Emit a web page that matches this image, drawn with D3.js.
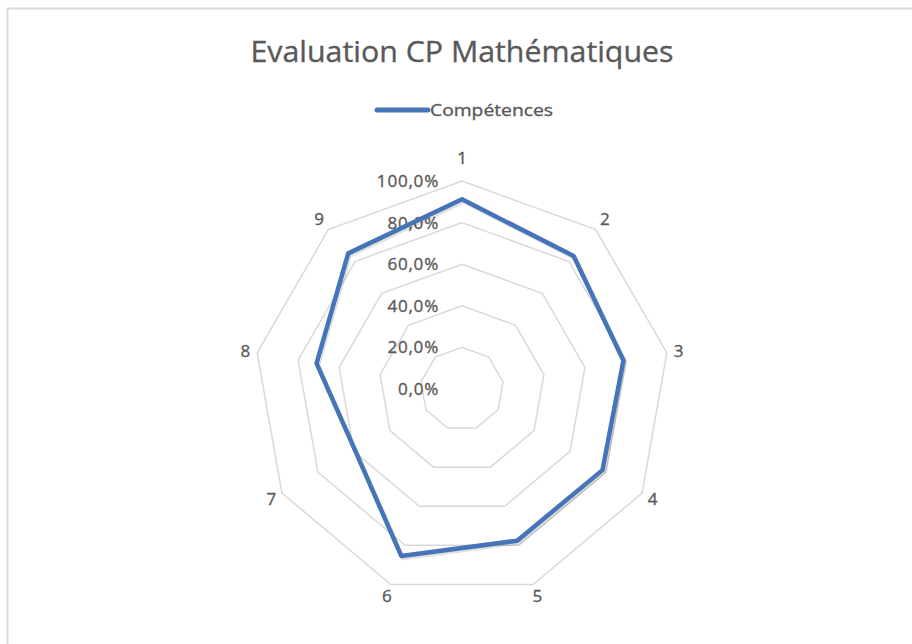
<!DOCTYPE html>
<html>
<head>
<meta charset="utf-8">
<script src="https://cdn.jsdelivr.net/npm/d3@7/dist/d3.min.js"></script>
<style>
  html, body { margin: 0; padding: 0; background: #fff; }
  svg { display: block; }
  text { font-family: "Open Sans", "Noto Sans", sans-serif; fill: #595959; stroke: #595959; stroke-width: 0.35px; }
</style>
</head>
<body>
<svg id="chart" width="912" height="644"></svg>
<script>
const title = "Evaluation CP Mathématiques";
const seriesName = "Compétences";
const categories = ["1", "2", "3", "4", "5", "6", "7", "8", "9"];
const values = [0.912, 0.835, 0.788, 0.78, 0.776, 0.854, 0.593, 0.71, 0.851];
const ticks = [0, 0.2, 0.4, 0.6, 0.8, 1.0];

const svg = d3.select("#chart");
const W = 912, H = 644;
const cx = 462, cy = 389, R = 208;
const lineColor = "#4674b8";
const gridColor = "#d9d9d9";

// chart border (top and left visible)
svg.append("line").attr("x1", 7).attr("y1", 8.5).attr("x2", W).attr("y2", 8.5)
  .attr("stroke", gridColor).attr("stroke-width", 2);
svg.append("line").attr("x1", 7.5).attr("y1", 8).attr("x2", 7.5).attr("y2", H)
  .attr("stroke", gridColor).attr("stroke-width", 2);

// title
svg.append("text").attr("x", cx).attr("y", 62)
  .attr("text-anchor", "middle")
  .attr("font-size", 30)
  .attr("textLength", 423).attr("lengthAdjust", "spacingAndGlyphs")
  .text(title);

// legend
const lg = svg.append("g");
lg.append("line").attr("x1", 377).attr("x2", 428).attr("y1", 110).attr("y2", 110)
  .attr("stroke", lineColor).attr("stroke-width", 5).attr("stroke-linecap", "round");
lg.append("text").attr("x", 430).attr("y", 110).attr("dy", "0.35em")
  .attr("font-size", 16.5)
  .attr("textLength", 123).attr("lengthAdjust", "spacingAndGlyphs")
  .text(seriesName);

const r = d3.scaleLinear().domain([0, 1]).range([0, R]);
const angle = d3.scalePoint().domain(categories).range([0, 2 * Math.PI * (categories.length - 1) / categories.length]);

const g = svg.append("g").attr("transform", `translate(${cx},${cy})`);

// grid rings (skip 0)
const ringLine = d3.lineRadial().curve(d3.curveLinearClosed);
ticks.filter(t => t > 0).forEach(t => {
  g.append("path")
    .attr("d", ringLine(categories.map(c => [angle(c), r(t)])))
    .attr("fill", "none").attr("stroke", gridColor).attr("stroke-width", 1.5);
});

// tick labels
const fr = d3.formatLocale({decimal: ",", thousands: " ", grouping: [3], currency: ["", " €"]});
const fmt = fr.format(".1%");
g.selectAll(".tick").data(ticks).join("text")
  .attr("class", "tick")
  .attr("x", -23).attr("y", d => -r(d)).attr("dy", "0.35em")
  .attr("text-anchor", "end")
  .attr("font-size", 17)
  .attr("letter-spacing", 0.8)
  .text(d => fmt(d));

// category labels
g.selectAll(".cat").data(categories).join("text")
  .attr("class", "cat")
  .attr("font-size", 17)
  .attr("text-anchor", "middle").attr("dy", "0.35em")
  .attr("x", c => {
    const a = angle(c), cs = Math.cos(a);
    const rr = 220 + 11 * Math.pow(Math.max(0, cs), 6);
    return rr * Math.sin(a);
  })
  .attr("y", c => {
    const a = angle(c), cs = Math.cos(a);
    const rr = 220 + 11 * Math.pow(Math.max(0, cs), 6);
    return -rr * cs;
  })
  .text(c => c);

// series shadow + line
const pts = categories.map((c, i) => [angle(c), r(values[i])]);
g.append("path")
  .attr("d", ringLine(pts))
  .attr("transform", "translate(1.5,2)")
  .attr("fill", "none").attr("stroke", "#000").attr("stroke-opacity", 0.12)
  .attr("stroke-width", 4.5).attr("stroke-linejoin", "round");
g.append("path")
  .attr("d", ringLine(pts))
  .attr("fill", "none").attr("stroke", lineColor)
  .attr("stroke-width", 4.5).attr("stroke-linejoin", "round");
</script>
</body>
</html>
